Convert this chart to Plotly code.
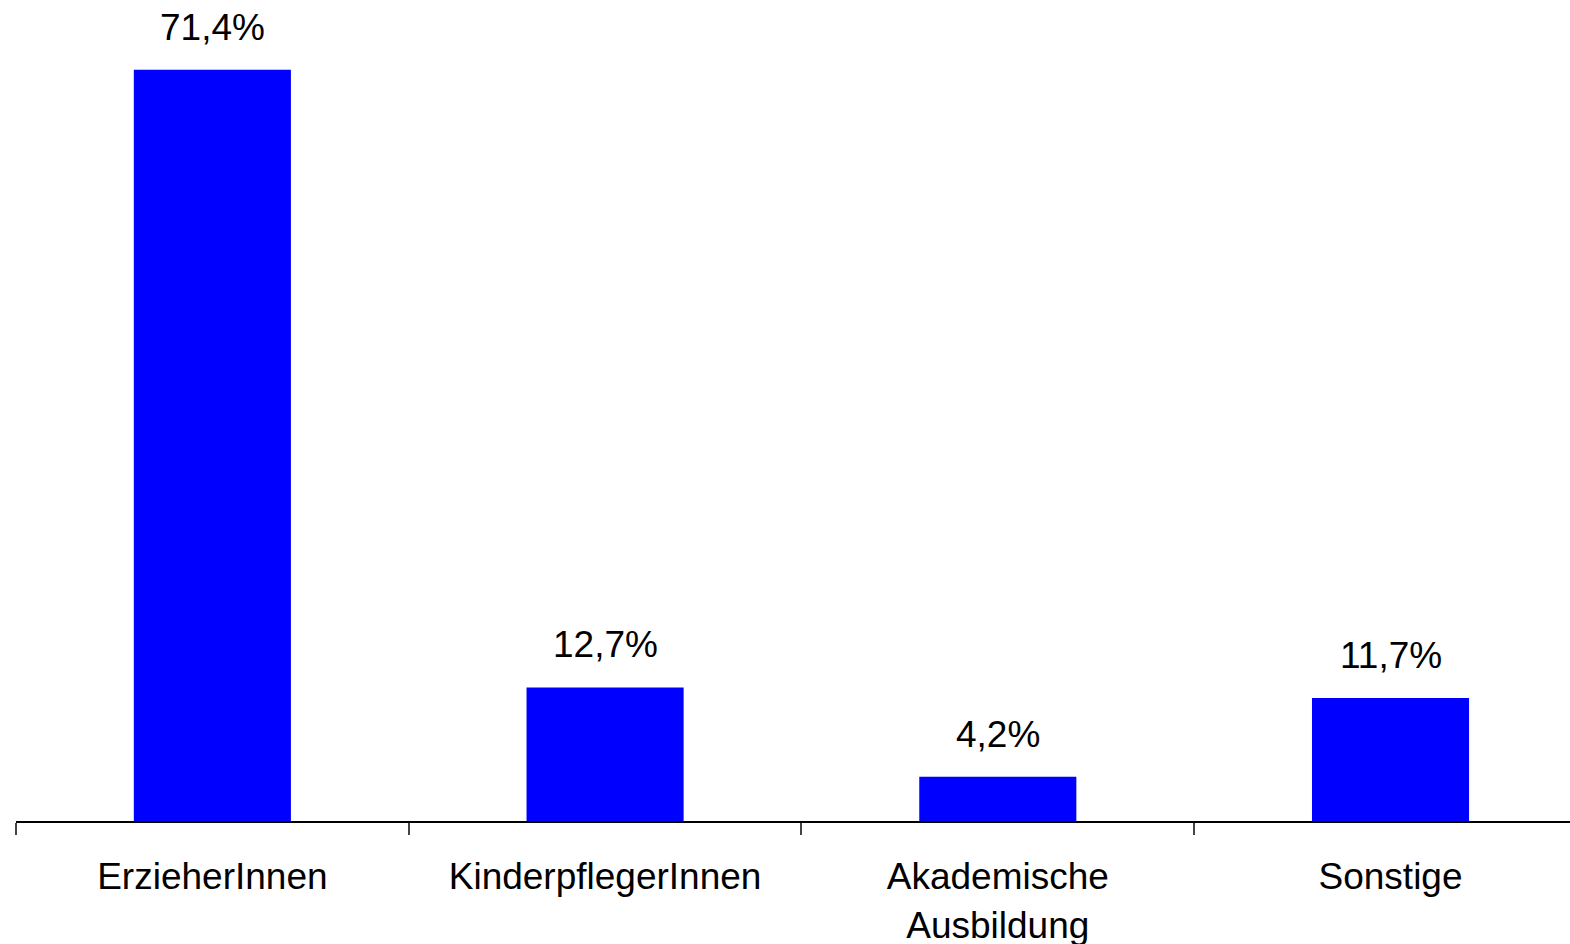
import plotly.graph_objects as go

categories = ["ErzieherInnen", "KinderpflegerInnen", "Akademische<br>Ausbildung", "Sonstige"]
values = [71.4, 12.7, 4.2, 11.7]
labels = ["71,4%", "12,7%", "4,2%", "11,7%"]

FONT = "Liberation Sans, Arial"

fig = go.Figure()
fig.add_trace(go.Bar(
    x=categories, y=values,
    marker=dict(color="#0000FF", line=dict(width=0)),
    width=0.4,
))
for c, v, t in zip(categories, values, labels):
    fig.add_annotation(x=c, y=v, text=t, showarrow=False, yanchor="bottom",
                       yshift=20, font=dict(family=FONT, size=37, color="black"))

fig.update_layout(
    width=1570, height=944,
    margin=dict(l=16, r=0, t=0, b=123, autoexpand=False),
    paper_bgcolor="white", plot_bgcolor="white",
    showlegend=False,
    font=dict(family=FONT, size=37, color="black"),
    xaxis=dict(
        type="category",
        range=[-0.5, 3.457],
        tickson="boundaries", ticks="outside", ticklen=12, tickcolor="#444", tickwidth=1.5,
        showline=True, linecolor="black", linewidth=2,
        showgrid=False, zeroline=False, automargin=False,
        ticklabelstandoff=22,
    ),
    yaxis=dict(range=[0, 78.04], visible=False, showgrid=False, zeroline=False, automargin=False),
)
fig.write_html("out.html", config={"displayModeBar": False},
               post_script="document.body.style.margin='0';document.body.style.overflow='hidden';")
